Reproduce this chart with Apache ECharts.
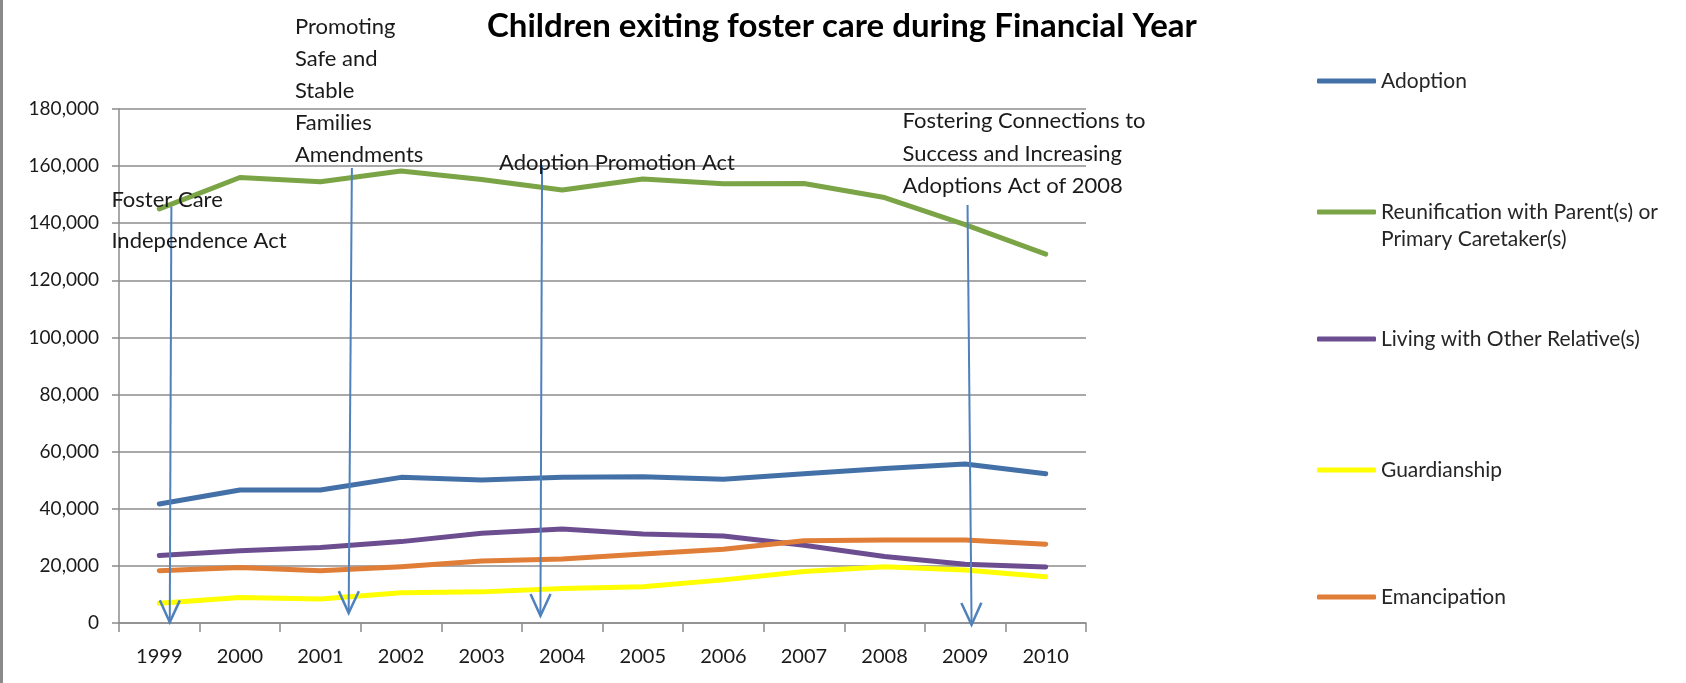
<!DOCTYPE html>
<html>
<head>
<meta charset="utf-8">
<script src="https://cdn.jsdelivr.net/npm/echarts@6/dist/echarts.min.js"></script>
<style>
html,body{margin:0;padding:0;background:#fff;}
#chart{width:1686px;height:683px;}
</style>
</head>
<body>
<div id="chart"></div>
<script>
// ---- data ----
const years = ['1999','2000','2001','2002','2003','2004','2005','2006','2007','2008','2009','2010'];
const adoption      = [41700, 46600, 46600, 51000, 50100, 51000, 51200, 50300, 52300, 54100, 55700, 52300];
const reunification = [145000, 156000, 154500, 158300, 155300, 151600, 155500, 153800, 153900, 149000, 139500, 129200];
const livingWithOtherRelatives = [23600, 25300, 26400, 28500, 31400, 32900, 31200, 30500, 27200, 23300, 20600, 19600];
const guardianship  = [6900, 8900, 8400, 10600, 10900, 12100, 12700, 15100, 18000, 19700, 18600, 16200];
const emancipation  = [18300, 19400, 18300, 19700, 21700, 22400, 24200, 25800, 28800, 29100, 29100, 27600];
const seriesNames = ['Adoption', 'Reunification with Parent(s) or Primary Caretaker(s)', 'Living with Other Relative(s)', 'Guardianship', 'Emancipation'];
const yTickValues = [0, 20000, 40000, 60000, 80000, 100000, 120000, 140000, 160000, 180000];

// legislation annotations (x in years, y in children)
const annoLabels = ['Foster Care\nIndependence Act', 'Promoting\nSafe and\nStable\nFamilies\nAmendments', 'Adoption Promotion Act', 'Fostering Connections to\nSuccess and Increasing\nAdoptions Act of 2008'];
const annoTopYears  = [1999.15, 2001.39, 2003.75, 2009.03];
const annoTipYears  = [1999.13, 2001.35, 2003.73, 2009.08];
const annoTopValues = [145800, 159300, 160400, 146400];
const annoTipValues = [300, 3500, 2500, -600];

// ---- styling ----
const colors = ['#4470A8', '#7BA446', '#6C4E90', '#FFFF00', '#E07D37'];
const FONT = 'Lato, "Open Sans", sans-serif';
const TXT = '#1a1a1a';
const GRID = '#8c8c8c';
const annoText = [
  {dx: -60, dy: -27, lh: 41},
  {dx: -57, dy: -157, lh: 32},
  {dx: -43, dy: -18, lh: 32},
  {dx: -65, dy: -100, lh: 32.5}
];
const legendCenters = [81, 212, 339, 470, 597];
const LH = 27;

const chart = echarts.init(document.getElementById('chart'), null, {renderer: 'canvas'});

const lineData = [adoption, reunification, livingWithOtherRelatives, guardianship, emancipation];
const series = lineData.map((d, i) => ({
  name: seriesNames[i],
  type: 'line',
  data: d,
  symbol: 'none',
  smooth: false,
  lineStyle: {width: 5, color: colors[i], cap: 'round', join: 'round'},
  itemStyle: {color: colors[i]},
  z: 2
}));

series.push({
  type: 'custom',
  name: 'annotations',
  xAxisIndex: 1,
  yAxisIndex: 0,
  clip: false,
  z: 5,
  silent: true,
  data: annoLabels.map((l, i) => [annoTopYears[i], annoTopValues[i], annoTipYears[i], annoTipValues[i]]),
  renderItem: function (params, api) {
    const i = params.dataIndex;
    const top = api.coord([api.value(0), api.value(1)]);
    const tip = api.coord([api.value(2), api.value(3)]);
    const ang = Math.atan2(tip[1] - top[1], tip[0] - top[0]);
    const L = 24, W = 0.43;
    const a1 = [tip[0] - L * Math.cos(ang - W), tip[1] - L * Math.sin(ang - W)];
    const a2 = [tip[0] - L * Math.cos(ang + W), tip[1] - L * Math.sin(ang + W)];
    const s = annoText[i];
    return {
      type: 'group',
      children: [
        {type: 'line', shape: {x1: top[0], y1: top[1], x2: tip[0], y2: tip[1]}, style: {stroke: '#4F81BD', lineWidth: 2}},
        {type: 'polyline', shape: {points: [a1, tip, a2]}, style: {stroke: '#4F81BD', lineWidth: 2.5, fill: null}},
        {type: 'text', x: top[0] + s.dx, y: top[1] + s.dy, z2: 10,
          style: {text: annoLabels[i], fontFamily: FONT, fontSize: 22, lineHeight: s.lh, fill: TXT, verticalAlign: 'top', align: 'left'}}
      ]
    };
  }
});

const legends = seriesNames.map((n, i) => {
  const twoLine = i === 1;
  return {
    show: true,
    data: [n],
    left: 1317,
    top: legendCenters[i] - (twoLine ? LH * 1.5 : LH / 2),
    orient: 'vertical',
    padding: 0,
    icon: 'roundRect',
    itemWidth: 59,
    itemHeight: 5,
    selectedMode: false,
    formatter: twoLine ? function () { return '\nReunification with Parent(s) or\nPrimary Caretaker(s)'; } : '{name}',
    textStyle: {fontFamily: FONT, fontSize: 21, color: '#262626', lineHeight: LH}
  };
});

const option = {
  animation: false,
  backgroundColor: '#ffffff',
  color: colors,
  title: {
    text: 'Children exiting foster care during Financial Year',
    left: 487,
    top: 10,
    padding: 0,
    textStyle: {fontFamily: FONT, fontSize: 33, fontWeight: 'bold', color: '#000'}
  },
  legend: legends,
  grid: {left: 119, right: 600, top: 109, bottom: 60, containLabel: false},
  xAxis: [
    {
      type: 'category',
      data: years,
      boundaryGap: true,
      axisLine: {show: true, lineStyle: {color: GRID, width: 1.5}},
      axisTick: {show: true, length: 9, lineStyle: {color: GRID, width: 1.5}},
      axisLabel: {fontFamily: FONT, fontSize: 20, color: TXT, margin: 24}
    },
    {
      type: 'value',
      min: 1998.5,
      max: 2010.5,
      show: false,
      position: 'bottom'
    }
  ],
  yAxis: {
    type: 'value',
    min: yTickValues[0],
    max: yTickValues[yTickValues.length - 1],
    interval: yTickValues[1] - yTickValues[0],
    axisLine: {show: true, lineStyle: {color: GRID, width: 1.5}},
    axisTick: {show: true, length: 7, inside: false, lineStyle: {color: GRID, width: 1.5}},
    splitLine: {show: true, lineStyle: {color: GRID, width: 1.5}},
    axisLabel: {
      fontFamily: FONT, fontSize: 19, color: TXT, margin: 20,
      formatter: v => v.toLocaleString('en-US')
    }
  },
  graphic: [
    {type: 'rect', left: 0, top: 0, shape: {width: 3, height: 683}, style: {fill: '#8a8a8a'}, silent: true}
  ],
  series: series
};

chart.setOption(option);
</script>
</body>
</html>
